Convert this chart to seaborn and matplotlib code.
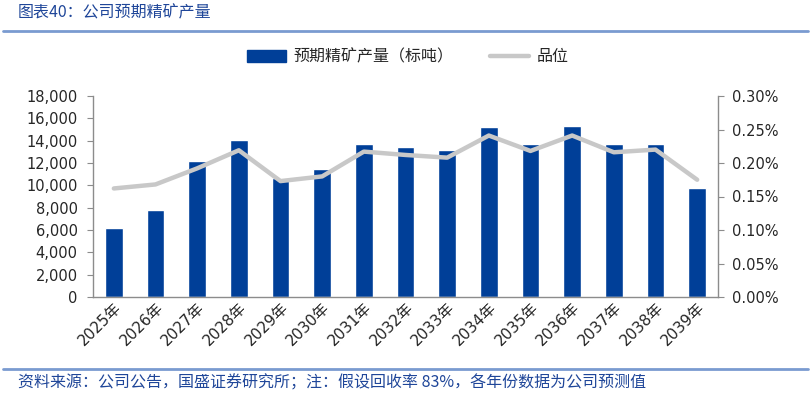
import numpy as np
import seaborn as sns
import matplotlib.pyplot as plt
from matplotlib.lines import Line2D
from matplotlib.patches import Patch
from matplotlib.ticker import FuncFormatter, FixedLocator

# === datos ===
years = ['2025年', '2026年', '2027年', '2028年', '2029年', '2030年', '2031年', '2032年',
         '2033年', '2034年', '2035年', '2036年', '2037年', '2038年', '2039年']
output_t = [6200, 7800, 12150, 14050, 10700, 11450, 13700, 13450,
            13150, 15200, 13700, 15300, 13700, 13700, 9750]
grade_pct = [0.162, 0.168, 0.192, 0.219, 0.173, 0.180, 0.217, 0.212,
             0.208, 0.241, 0.218, 0.241, 0.216, 0.220, 0.175]

title = '图表40：公司预期精矿产量'
source = '资料来源：公司公告，国盛证券研究所；注：假设回收率 83%，各年份数据为公司预测值'
bar_label = '预期精矿产量（标吨）'
line_label = '品位'

bar_color = '#003F98'
line_color = '#C8C8C8'
blue_txt = '#1F4699'
axis_gray = '#8C8C8C'

sns.set_style('white')
plt.rcParams['font.family'] = ['DejaVu Sans', 'Noto Sans CJK SC']
cjk = ['Noto Sans CJK SC', 'DejaVu Sans']

fig = plt.figure(figsize=(8.1, 3.98), dpi=100)
ax = fig.add_axes([93 / 810, 1 - 297 / 398, 625 / 810, 201 / 398])

sns.barplot(x=years, y=output_t, color=bar_color, width=0.42, saturation=1, ax=ax)
ax.set_ylim(0, 18000)
ax.set_xlim(-0.5, len(years) - 0.5)
ax.set_yticks(np.arange(0, 18001, 2000))
ax.yaxis.set_major_formatter(FuncFormatter(lambda v, p: f'{int(v):,}'))

ax2 = ax.twinx()
sns.lineplot(x=years, y=grade_pct, color=line_color, linewidth=3.2, sort=False, ax=ax2)
ax2.set_ylim(0, 0.30)
ax2.set_yticks(np.arange(0, 0.301, 0.05))
ax2.yaxis.set_major_formatter(FuncFormatter(lambda v, p: f'{v:.2f}%'))

# ejes y ticks
for a in (ax, ax2):
    for s in a.spines.values():
        s.set_color(axis_gray)
        s.set_linewidth(1.0)
    a.spines['top'].set_visible(False)
    a.set_xlabel('')
    a.set_ylabel('')
ax.spines['right'].set_visible(False)
ax2.spines['left'].set_visible(False)
ax2.spines['bottom'].set_visible(False)

ax.tick_params(axis='y', direction='out', length=4, color=axis_gray, labelsize=10.5, pad=7)
ax2.tick_params(axis='y', direction='out', length=4, color=axis_gray, labelsize=10.5, pad=6)
ax.tick_params(axis='x', which='major', length=0, labelsize=11, pad=2)
ax.xaxis.set_minor_locator(FixedLocator(np.arange(0.5, len(years) - 1, 1.0)))
ax.tick_params(axis='x', which='minor', direction='in', length=4, color=axis_gray)
plt.setp(ax.get_xticklabels(), rotation=45, ha='right', rotation_mode='anchor')

# leyenda
handles = [Patch(facecolor=bar_color, edgecolor=bar_color),
           Line2D([0], [0], color=line_color, linewidth=3.2)]
fig.legend(handles, [bar_label, line_label], loc='center', bbox_to_anchor=(408 / 810, 1 - 57 / 398),
           ncol=2, frameon=False, prop={'family': cjk, 'size': 11.5},
           handlelength=2.4, handleheight=0.8, columnspacing=2.3, handletextpad=0.5)

# titulo y fuente
fig.text(18 / 810, 1 - 13 / 398, title, color=blue_txt, fontsize=11.5, family=cjk,
         style='italic', va='center', ha='left')
fig.text(18 / 810, 1 - 383 / 398, source, color=blue_txt, fontsize=11.5, family=cjk,
         style='italic', va='center', ha='left')
fig.add_artist(Line2D([3 / 810, 808 / 810], [1 - 30.5 / 398] * 2, color='#7A9BD0', linewidth=2))
fig.add_artist(Line2D([3 / 810, 808 / 810], [1 - 369 / 398] * 2, color='#7A9BD0', linewidth=2))

plt.savefig('out.png', dpi=100)
plt.close()
